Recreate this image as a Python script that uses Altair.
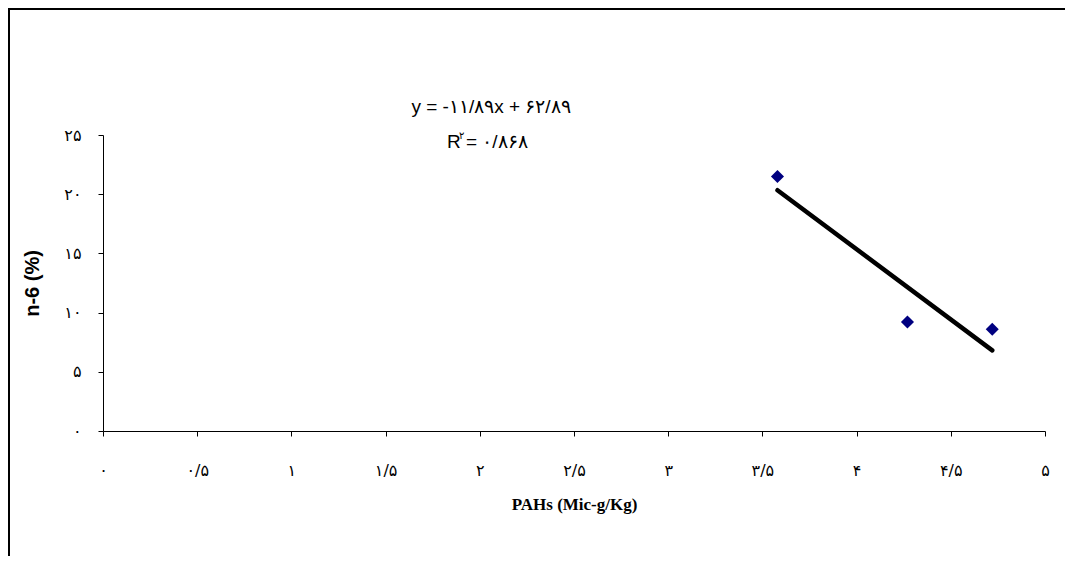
import altair as alt
import pandas as pd

# data
pahs = [3.58, 4.27, 4.72]
n6 = [21.5, 9.2, 8.6]

x_ticks = [0, 0.5, 1, 1.5, 2, 2.5, 3, 3.5, 4, 4.5, 5]
x_tick_labels = ["۰", "۰/۵", "۱", "۱/۵", "۲", "۲/۵", "۳", "۳/۵", "۴", "۴/۵", "۵"]
y_ticks = [0, 5, 10, 15, 20, 25]
y_tick_labels = ["۰", "۵", "۱۰", "۱۵", "۲۰", "۲۵"]

eq_line = "y = -۱۱/۸۹x + ۶۲/۸۹"
r2_text = "= ۰/۸۶۸"

def label_expr(values, labels):
    expr = "''"
    for v, l in reversed(list(zip(values, labels))):
        expr = f"datum.value == {v} ? '{l}' : ({expr})"
    return expr

df = pd.DataFrame({"x": pahs, "y": n6})

W, H = 942, 296
PL, PT, PR, PB = 95, 127, 20, 125

x_enc = alt.X(
    "x:Q",
    scale=alt.Scale(domain=[0, 5], nice=False, zero=False),
    axis=alt.Axis(
        values=x_ticks,
        labelExpr=label_expr(x_ticks, x_tick_labels),
        title="PAHs (Mic-g/Kg)",
        titleFont="Liberation Serif",
        titleFontSize=17,
        titleFontWeight="bold",
        titleX=471,
        titleY=73,
        titleBaseline="middle",
        labelFont="DejaVu Sans",
        labelFontSize=16,
        labelBaseline="middle",
        labelPadding=34,
        tickSize=5,
        grid=False,
        domainColor="black",
        tickColor="black",
        labelColor="black",
        titleColor="black",
        labelFlush=False,
    ),
)
y_enc = alt.Y(
    "y:Q",
    scale=alt.Scale(domain=[0, 25], nice=False, zero=False),
    axis=alt.Axis(
        values=y_ticks,
        labelExpr=label_expr(y_ticks, y_tick_labels),
        title="n-6 (%)",
        titleFont="Liberation Sans",
        titleFontSize=20,
        titleFontWeight="bold",
        titleX=-71,
        titleY=148,
        titleAlign="center",
        titleBaseline="middle",
        labelFont="DejaVu Sans",
        labelFontSize=16,
        labelPadding=17,
        tickSize=5,
        grid=False,
        domainColor="black",
        tickColor="black",
        labelColor="black",
        titleColor="black",
        labelFlush=False,
    ),
)

base = alt.Chart(df)

points = base.mark_point(shape="diamond", filled=True, color="#000080", opacity=1, size=170).encode(
    x=x_enc, y=y_enc
)

trend = base.transform_regression("x", "y", method="linear").mark_line(
    color="black", strokeWidth=4.5, strokeCap="round"
).encode(x="x:Q", y="y:Q")

one = pd.DataFrame({"a": [0]})

frame_top = alt.Chart(one).mark_rule(color="black", strokeWidth=2).encode(
    x=alt.value(-PL), x2=alt.value(W + PR), y=alt.value(-PT + 1)
)
frame_left = alt.Chart(one).mark_rule(color="black", strokeWidth=2).encode(
    x=alt.value(-PL + 1), y=alt.value(-PT), y2=alt.value(H + PB)
)

eq1 = alt.Chart(one).mark_text(
    font="Liberation Sans", fontSize=19, color="black", align="center", baseline="middle"
).encode(x=alt.value(491 - 103), y=alt.value(107 - 135), text=alt.value(eq_line))

r_main = alt.Chart(one).mark_text(
    font="Liberation Sans", fontSize=19, color="black", align="left", baseline="middle"
).encode(x=alt.value(447 - 103), y=alt.value(142 - 135), text=alt.value("R"))
r_sup = alt.Chart(one).mark_text(
    font="DejaVu Sans", fontSize=10, color="black", align="left", baseline="middle"
).encode(x=alt.value(459 - 103), y=alt.value(136 - 135), text=alt.value("۲"))
r_rest = alt.Chart(one).mark_text(
    font="Liberation Sans", fontSize=19, color="black", align="left", baseline="middle"
).encode(x=alt.value(466 - 103), y=alt.value(142 - 135), text=alt.value(r2_text))

chart = alt.layer(points, trend, frame_top, frame_left, eq1, r_main, r_sup, r_rest).properties(
    width=W,
    height=H,
    padding={"left": PL, "top": PT, "right": PR, "bottom": PB},
    autosize=alt.AutoSizeParams(type="none"),
    background="white",
).configure_view(stroke=None)

chart.save("out.html", embed_options={"renderer": "svg", "actions": False})
